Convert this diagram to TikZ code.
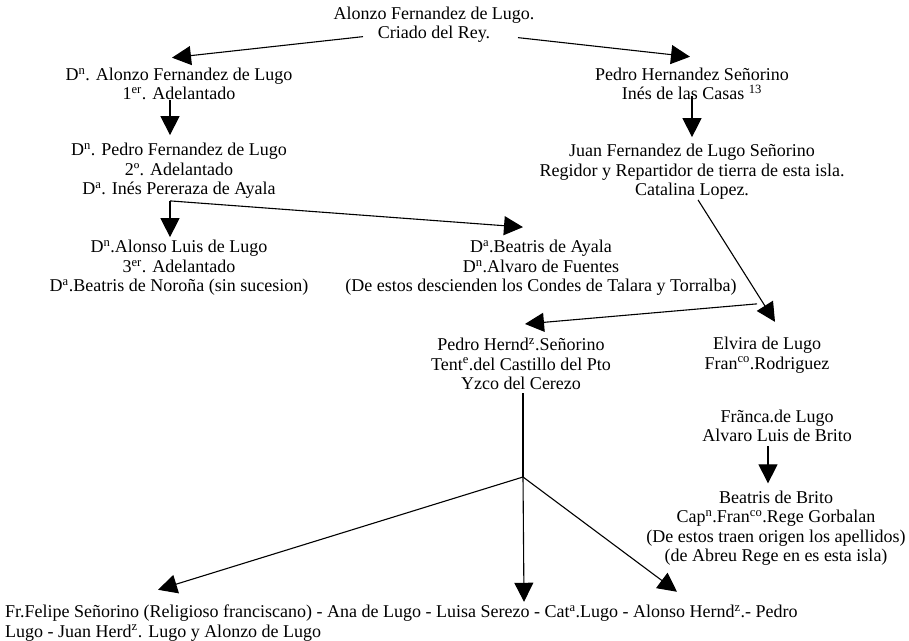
\documentclass[tikz,border=0pt]{standalone}
\usepackage{fontspec}
\setmainfont{Liberation Serif}
\usetikzlibrary{arrows.meta}

\begin{document}
\begin{tikzpicture}[
  x=1pt, y=-1pt,
  font=\fontsize{18}{19.5}\selectfont,
  person/.style={align=center, inner sep=0pt},
  arrow/.style={-{Triangle[length=19pt,width=19pt]}, line width=1.1pt},
  link/.style={line width=1.1pt}
]
\useasboundingbox (0,0) rectangle (909,640);

\node[person] (top) at (434,24.5) {Alonzo Fernandez de Lugo.\\ Criado del Rey.};
\node[person] (adel1) at (179,84) {D\textsuperscript{n}. Alonzo Fernandez de Lugo\\ 1\textsuperscript{er}. Adelantado};
\node[person] (pedro1) at (692,84) {Pedro Hernandez Señorino\\ Inés de las Casas \textsuperscript{13}};
\node[person] (adel2) at (179,171) {D\textsuperscript{n}. Pedro Fernandez de Lugo\\ 2º. Adelantado\\ D\textsuperscript{a}. Inés Pereraza de Ayala};
\node[person] (juan) at (692,172) {Juan Fernandez de Lugo Señorino\\ Regidor y Repartidor de tierra de esta isla.\\ Catalina Lopez.};
\node[person] (adel3) at (179,268) {D\textsuperscript{n}.Alonso Luis de Lugo\\ 3\textsuperscript{er}. Adelantado\\ D\textsuperscript{a}.Beatris de Noroña (sin sucesion)};
\node[person] (beatris) at (541,268) {D\textsuperscript{a}.Beatris de Ayala\\ D\textsuperscript{n}.Alvaro de Fuentes\\ (De estos descienden los Condes de Talara y Torralba)};
\node[person] (pedro2) at (521,364) {Pedro Hernd\textsuperscript{z}.Señorino\\ Tent\textsuperscript{e}.del Castillo del Pto\\ Yzco del Cerezo};
\node[person] (elvira) at (767,355) {Elvira de Lugo\\ Fran\textsuperscript{co}.Rodriguez};
\node[person] (franca) at (777,426) {Frãnca.de Lugo\\ Alvaro Luis de Brito};
\node[person] (brito) at (776,528) {Beatris de Brito\\ Cap\textsuperscript{n}.Fran\textsuperscript{co}.Rege Gorbalan\\ (De estos traen origen los apellidos)\\ (de Abreu Rege en es esta isla)};
\node[person, align=left, anchor=west] (kids) at (5,623) {Fr.Felipe Señorino (Religioso franciscano) - Ana de Lugo - Luisa Serezo - Cat\textsuperscript{a}.Lugo - Alonso Hernd\textsuperscript{z}.- Pedro\\ Lugo - Juan Herd\textsuperscript{z}. Lugo y Alonzo de Lugo};

\coordinate (split) at ([xshift=-9pt,yshift=-2pt]adel2.south);
\coordinate (fork) at (523,477);

\draw[arrow] ([xshift=-71pt,yshift=6pt]top.south) -- ([xshift=-7pt,yshift=10pt]adel1.north);
\draw[arrow] ([xshift=84pt,yshift=5pt]top.south) -- ([xshift=-2pt,yshift=11pt]pedro1.north);
\draw[arrow] ([xshift=-9pt]adel1.south) -- ([xshift=-9pt,yshift=8pt]adel2.north);
\draw[arrow] ([yshift=4pt]pedro1.south) -- ([yshift=7pt]juan.north);
\draw[arrow] (split) -- ([xshift=-9pt,yshift=3pt]adel3.north);
\draw[arrow] (split) -- ([xshift=-18pt,yshift=13pt]beatris.north);
\draw[arrow] ([xshift=6pt]juan.south) -- ([xshift=8pt,yshift=15pt]elvira.north);
\draw[arrow] ([xshift=-10pt,yshift=33pt]elvira.north) -- ([xshift=4pt,yshift=14pt]pedro2.north);
\draw[link] ([xshift=2pt,yshift=-3pt]pedro2.south) -- (fork);
\draw[arrow] (fork) -- ([xshift=153pt,yshift=15pt]kids.north west);
\draw[arrow] (fork) -- ([xshift=519pt,yshift=3pt]kids.north west);
\draw[arrow] (fork) -- ([xshift=672pt,yshift=13pt]kids.north west);
\draw[arrow] ([xshift=-9pt,yshift=-4pt]franca.south) -- ([xshift=-8pt,yshift=7pt]brito.north);
\end{tikzpicture}
\end{document}
